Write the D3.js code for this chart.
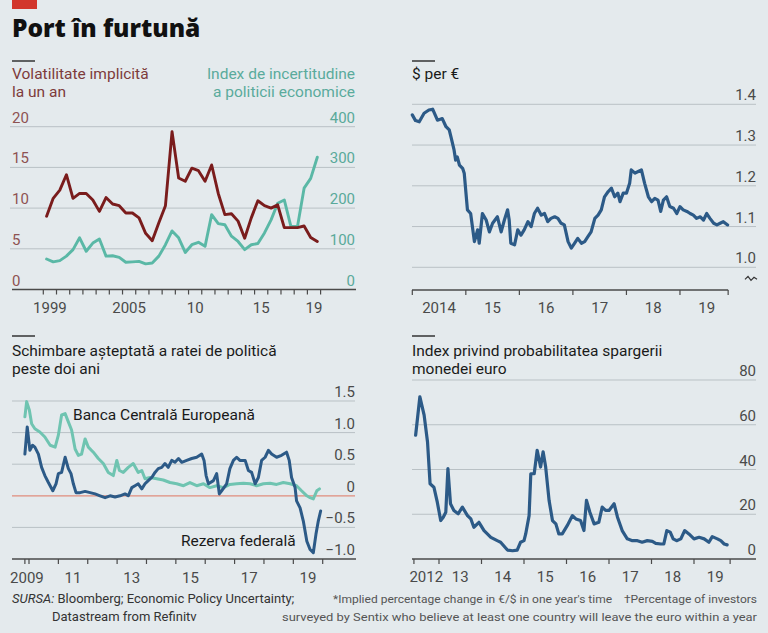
<!DOCTYPE html>
<html>
<head>
<meta charset="utf-8">
<script src="https://cdn.jsdelivr.net/npm/d3@7"></script>
<style>
  body { margin: 0; background: #e4eaed; }
  svg { display: block; font-family: Roboto, "Open Sans", sans-serif; }
</style>
</head>
<body>
<div id="chart"></div>
<script>
// ---- data ----
// panel 1: half-yearly, 1999 H1 .. 2019 H2
var volPeriods = d3.range(1999.25, 2020, 0.5);
var volatility = [9.0, 11.2, 12.2, 14.1, 11.2, 11.8, 11.8, 11.0, 9.6, 11.3, 10.5, 10.3, 9.4, 9.4, 8.8, 6.9, 6.0, 8.2, 10.3, 19.4,
  13.7, 13.3, 14.9, 14.6, 13.3, 15.3, 11.8, 9.2, 9.3, 8.4, 6.3, 8.8, 10.9, 10.3, 10.0, 10.4, 7.6, 7.6, 7.6, 7.8, 6.4, 5.9];
var uncertainty = [75, 68, 71, 82, 98, 127, 94, 114, 124, 82, 83, 79, 67, 68, 69, 63, 65, 82, 110, 144,
  127, 91, 110, 116, 106, 184, 162, 159, 131, 118, 98, 110, 113, 139, 171, 212, 220, 155, 155, 249, 273, 325];

// panel 2: $ per euro
var fxDates = [2014.00, 2014.06, 2014.13, 2014.22, 2014.31, 2014.38, 2014.47, 2014.56, 2014.63, 2014.69, 2014.72, 2014.78,
  2014.81, 2014.84, 2014.88, 2014.94, 2014.97, 2015.03, 2015.09, 2015.16, 2015.22, 2015.25, 2015.31, 2015.38, 2015.44,
  2015.50, 2015.59, 2015.66, 2015.72, 2015.78, 2015.81, 2015.84, 2015.91, 2015.97, 2016.03, 2016.09, 2016.16, 2016.22,
  2016.28, 2016.34, 2016.41, 2016.47, 2016.53, 2016.59, 2016.66, 2016.72, 2016.78, 2016.84, 2016.91, 2016.97, 2017.03,
  2017.09, 2017.16, 2017.22, 2017.28, 2017.34, 2017.41, 2017.47, 2017.53, 2017.59, 2017.66, 2017.72, 2017.78, 2017.84,
  2017.88, 2017.94, 2018.00, 2018.06, 2018.09, 2018.16, 2018.22, 2018.28, 2018.34, 2018.41, 2018.47, 2018.53, 2018.59,
  2018.64, 2018.69, 2018.75, 2018.81, 2018.88, 2018.94, 2019.00, 2019.06, 2019.13, 2019.19, 2019.25, 2019.31, 2019.38,
  2019.44, 2019.50, 2019.56, 2019.63, 2019.69, 2019.75, 2019.81, 2019.89];
var fxValues = [1.374, 1.360, 1.357, 1.378, 1.386, 1.388, 1.361, 1.365, 1.345, 1.337, 1.321, 1.288,
  1.263, 1.271, 1.251, 1.243, 1.231, 1.141, 1.132, 1.063, 1.092, 1.059, 1.132, 1.116, 1.087,
  1.108, 1.124, 1.087, 1.116, 1.141, 1.116, 1.059, 1.055, 1.092, 1.079, 1.092, 1.112, 1.100,
  1.132, 1.145, 1.128, 1.132, 1.112, 1.120, 1.124, 1.120, 1.108, 1.104, 1.063, 1.047, 1.059,
  1.071, 1.059, 1.063, 1.075, 1.087, 1.120, 1.128, 1.141, 1.173, 1.186, 1.194, 1.173, 1.182,
  1.161, 1.182, 1.182, 1.206, 1.239, 1.231, 1.235, 1.239, 1.206, 1.173, 1.161, 1.169, 1.165,
  1.137, 1.165, 1.173, 1.149, 1.145, 1.132, 1.149, 1.141, 1.137, 1.132, 1.128, 1.120, 1.124,
  1.116, 1.132, 1.120, 1.108, 1.104, 1.108, 1.112, 1.104];

// panel 3: expected policy-rate change, ECB and Fed
var ecbDates = [2009.86, 2009.92, 2010.01, 2010.09, 2010.20, 2010.37, 2010.54, 2010.72, 2010.89, 2011.00, 2011.11, 2011.23,
  2011.34, 2011.45, 2011.57, 2011.68, 2011.79, 2011.91, 2012.02, 2012.19, 2012.36, 2012.53, 2012.70, 2012.87, 2012.99,
  2013.08, 2013.21, 2013.38, 2013.55, 2013.72, 2013.84, 2013.95, 2014.12, 2014.35, 2014.57, 2014.80, 2015.03, 2015.26,
  2015.48, 2015.71, 2015.94, 2016.16, 2016.39, 2016.62, 2016.84, 2017.07, 2017.30, 2017.53, 2017.75, 2017.98, 2018.21,
  2018.43, 2018.66, 2018.89, 2019.11, 2019.28, 2019.46, 2019.57, 2019.68, 2019.80, 2019.89];
var ecbValues = [1.25, 1.49, 1.36, 1.14, 1.06, 1.01, 0.93, 0.80, 0.77, 0.96, 1.28, 1.30,
  1.17, 1.04, 0.74, 0.64, 0.66, 0.90, 0.77, 0.69, 0.59, 0.51, 0.37, 0.32, 0.56,
  0.40, 0.37, 0.45, 0.51, 0.37, 0.40, 0.27, 0.29, 0.27, 0.25, 0.21, 0.19, 0.16,
  0.21, 0.16, 0.19, 0.13, 0.16, 0.13, 0.18, 0.19, 0.20, 0.19, 0.16, 0.19, 0.20,
  0.18, 0.21, 0.19, 0.16, 0.08, 0.00, -0.03, -0.05, 0.08, 0.11];
var fedDates = [2009.86, 2009.94, 2010.03, 2010.12, 2010.20, 2010.32, 2010.43, 2010.54, 2010.66, 2010.81, 2010.92, 2011.00,
  2011.11, 2011.23, 2011.34, 2011.43, 2011.51, 2011.60, 2011.74, 2011.91, 2012.08, 2012.25, 2012.42, 2012.59, 2012.76,
  2012.93, 2013.10, 2013.27, 2013.38, 2013.50, 2013.61, 2013.72, 2013.84, 2013.95, 2014.06, 2014.18, 2014.29, 2014.40,
  2014.52, 2014.63, 2014.74, 2014.86, 2014.97, 2015.09, 2015.20, 2015.37, 2015.54, 2015.71, 2015.88, 2015.96, 2016.03,
  2016.11, 2016.28, 2016.39, 2016.48, 2016.56, 2016.73, 2016.84, 2016.96, 2017.07, 2017.18, 2017.36, 2017.47, 2017.58,
  2017.70, 2017.81, 2017.92, 2018.04, 2018.15, 2018.26, 2018.43, 2018.60, 2018.77, 2018.86, 2018.94, 2019.06, 2019.11,
  2019.23, 2019.34, 2019.46, 2019.57, 2019.68, 2019.77, 2019.85, 2019.93];
var fedValues = [0.66, 1.09, 0.72, 0.80, 0.77, 0.66, 0.45, 0.32, 0.21, 0.08, 0.19, 0.35,
  0.37, 0.61, 0.43, 0.35, 0.19, 0.05, 0.05, 0.07, 0.05, 0.03, 0.00, -0.03, 0.00,
  -0.02, 0.00, 0.03, 0.00, 0.13, 0.16, 0.19, 0.11, 0.19, 0.24, 0.29, 0.37, 0.43,
  0.45, 0.51, 0.45, 0.56, 0.53, 0.59, 0.53, 0.56, 0.59, 0.61, 0.66, 0.56, 0.32,
  0.19, 0.24, 0.35, 0.03, 0.08, 0.19, 0.43, 0.56, 0.61, 0.56, 0.56, 0.40, 0.37,
  0.19, 0.29, 0.56, 0.61, 0.72, 0.66, 0.61, 0.64, 0.69, 0.56, 0.29, 0.13, -0.08,
  -0.19, -0.40, -0.72, -0.85, -0.90, -0.61, -0.40, -0.24];

// panel 4: euro break-up index
var breakDates = [2012.45, 2012.55, 2012.65, 2012.73, 2012.79, 2012.88, 2012.96, 2013.04, 2013.10, 2013.16, 2013.21, 2013.27,
  2013.35, 2013.45, 2013.55, 2013.67, 2013.75, 2013.82, 2013.94, 2014.06, 2014.22, 2014.37, 2014.45, 2014.61, 2014.73,
  2014.84, 2014.92, 2015.00, 2015.04, 2015.12, 2015.16, 2015.24, 2015.31, 2015.35, 2015.39, 2015.45, 2015.51, 2015.59,
  2015.67, 2015.75, 2015.82, 2015.90, 2016.02, 2016.14, 2016.22, 2016.33, 2016.41, 2016.47, 2016.55, 2016.65, 2016.76,
  2016.84, 2016.92, 2017.00, 2017.12, 2017.20, 2017.31, 2017.43, 2017.55, 2017.67, 2017.78, 2017.90, 2018.02, 2018.10,
  2018.22, 2018.29, 2018.36, 2018.44, 2018.51, 2018.59, 2018.69, 2018.78, 2018.88, 2019.00, 2019.12, 2019.24, 2019.35,
  2019.43, 2019.55, 2019.63, 2019.71, 2019.78];
var breakValues = [55.3, 72.5, 64.3, 52.3, 33.6, 32.1, 25.4, 17.2, 18.7, 20.9, 40.4, 24.7,
  21.7, 20.2, 23.2, 19.4, 17.9, 14.2, 16.4, 12.7, 9.7, 8.2, 7.5, 4.0, 3.7,
  4.0, 7.5, 8.2, 11.2, 19.4, 38.1, 38.1, 48.6, 44.9, 41.1, 47.9, 41.1, 26.2,
  17.2, 15.7, 11.2, 11.2, 15.0, 19.4, 17.9, 17.2, 12.7, 26.2, 20.9, 15.7, 16.4,
  23.2, 21.7, 21.7, 24.7, 18.7, 12.7, 9.0, 8.2, 8.2, 7.5, 8.2, 7.9, 7.0,
  6.7, 6.7, 12.7, 12.0, 9.0, 8.2, 9.0, 12.7, 11.2, 9.0, 9.7, 9.0, 7.5,
  10.0, 9.0, 8.2, 6.7, 6.3];

// tick labels
var volTicks = [0, 5, 10, 15, 20];
var epuTicks = [0, 100, 200, 300, 400];
var volYearLabels = ["1999", "2005", "10", "15", "19"];
var fxTicks = [1.0, 1.1, 1.2, 1.3, 1.4];
var fxYearLabels = ["2014", "15", "16", "17", "18", "19"];
var rateTicks = [-1.0, -0.5, 0, 0.5, 1.0, 1.5];
var rateYearLabels = ["2009", "11", "13", "15", "17", "19"];
var breakTicks = [0, 20, 40, 60, 80];
var breakYearLabels = ["2012", "13", "14", "15", "16", "17", "18", "19"];

// ---- drawing ----
var W = 768, H = 633;
var GRID = "#b9c1c5", AXIS = "#4a4a4a", LABEL = "#4a4a4a";
var RED = "#7a1c1c", TEAL = "#5ab8a6", BLUE = "#2c5a87", TEAL2 = "#6fc4b1";

var svg = d3.select("#chart").append("svg")
  .attr("width", W)
  .attr("height", H);

svg.append("rect").attr("width", W).attr("height", H).attr("fill", "#e4eaed");

// red tag and title
svg.append("rect").attr("x", 12).attr("y", 0).attr("width", 25).attr("height", 9).attr("fill", "#d2362c");
svg.append("text")
  .attr("x", 12).attr("y", 37)
  .style("font-family", "'Open Sans', sans-serif")
  .style("font-weight", 800)
  .style("font-size", "24.5px")
  .attr("fill", "#111")
  .text("Port în furtună");

function marker(x, y) {
  svg.append("line").attr("x1", x).attr("x2", x + 23).attr("y1", y).attr("y2", y)
    .attr("stroke", "#333").attr("stroke-width", 1.5);
}

function textLines(lines, x, y, anchor, color) {
  lines.forEach(function (s, i) {
    svg.append("text").attr("x", x).attr("y", y + i * 18)
      .attr("text-anchor", anchor)
      .style("font-size", "15.5px")
      .attr("fill", color)
      .text(s);
  });
}

function gridlines(y, ticks, x0, x1, skip) {
  svg.append("g").selectAll("line")
    .data(ticks.filter(function (d) { return skip.indexOf(d) < 0; }))
    .enter().append("line")
    .attr("x1", x0).attr("x2", x1)
    .attr("y1", function (d) { return y(d); })
    .attr("y2", function (d) { return y(d); })
    .attr("stroke", GRID).attr("stroke-width", 1);
}

function valueLabels(y, ticks, x, anchor, color, fmt) {
  svg.append("g").selectAll("text")
    .data(ticks)
    .enter().append("text")
    .attr("x", x)
    .attr("y", function (d) { return y(d) - 4; })
    .attr("text-anchor", anchor)
    .style("font-size", "15px")
    .attr("fill", color)
    .text(fmt);
}

function xAxis(x, yPos, tickYears, x0, x1) {
  svg.append("line").attr("x1", x0).attr("x2", x1).attr("y1", yPos).attr("y2", yPos)
    .attr("stroke", AXIS).attr("stroke-width", 1.3);
  svg.append("g").selectAll("line")
    .data(tickYears)
    .enter().append("line")
    .attr("x1", function (d) { return x(d); })
    .attr("x2", function (d) { return x(d); })
    .attr("y1", yPos).attr("y2", yPos + 5)
    .attr("stroke", AXIS).attr("stroke-width", 1.2);
}

function yearLabels(x, yPos, years, labels) {
  svg.append("g").selectAll("text")
    .data(years)
    .enter().append("text")
    .attr("x", function (d) { return x(d); })
    .attr("y", yPos)
    .attr("text-anchor", "middle")
    .style("font-size", "15px")
    .attr("fill", LABEL)
    .text(function (d, i) { return labels[i]; });
}

function drawLine(x, y, dates, values, color, w) {
  var line = d3.line()
    .x(function (d, i) { return x(dates[i]); })
    .y(function (d) { return y(d); });
  svg.append("path")
    .datum(values)
    .attr("d", line)
    .attr("fill", "none")
    .attr("stroke", color)
    .attr("stroke-width", w)
    .attr("stroke-linejoin", "round")
    .attr("stroke-linecap", "round");
}

// ---- panel 1: volatility vs policy uncertainty ----
var x1 = d3.scaleLinear().domain([1999, 2020]).range([43.3, 320.6]);
var yVol = d3.scaleLinear().domain([0, 20]).range([289.5, 126.7]);
var yEpu = d3.scaleLinear().domain([0, 400]).range([289.5, 126.7]);

marker(12, 61);
textLines(["Volatilitate implicită", "la un an"], 12, 79, "start", "#7d3b3b");
textLines(["Index de incertitudine", "a politicii economice"], 355, 79, "end", "#5aab9c");

gridlines(yVol, volTicks, 10, 355, [0]);
valueLabels(yVol, volTicks, 12, "start", "#8e5252", function (d) { return d; });
valueLabels(yEpu, epuTicks, 355, "end", "#5aa99a", function (d) { return d; });
xAxis(x1, 289.5, d3.range(1999, 2021), 12, 356);
yearLabels(x1, 313, [1999.5, 2005.5, 2010.5, 2015.5, 2019.5], volYearLabels);

drawLine(x1, yEpu, volPeriods, uncertainty, TEAL, 2.9);
drawLine(x1, yVol, volPeriods, volatility, RED, 2.9);

// ---- panel 2: $ per euro ----
var x2 = d3.scaleLinear().domain([2014, 2020]).range([412.3, 733.5]);
var yFx = d3.scaleLinear().domain([1.0, 1.4]).range([267.3, 104.3]);

marker(412, 61);
textLines(["$ per €"], 412, 79, "start", "#1a1a1a");

gridlines(yFx, fxTicks, 412, 756, []);
valueLabels(yFx, fxTicks, 756, "end", LABEL, d3.format(".1f"));
xAxis(x2, 290, [2014, 2015, 2016, 2017, 2018, 2019, 2019.9], 412, x2(2019.9));
yearLabels(x2, 312.5, [2014.5, 2015.5, 2016.5, 2017.5, 2018.5, 2019.5], fxYearLabels);

// axis break symbol
var bx = 751, by = yFx(1.0) + 11;
svg.append("path")
  .attr("d", "M" + (bx - 6) + "," + (by + 1) + " L" + (bx - 3) + "," + (by - 2) + " L" + bx + "," + (by + 2) +
    " L" + (bx + 3) + "," + (by - 1) + " L" + (bx + 6) + "," + (by + 1))
  .attr("fill", "none").attr("stroke", "#333").attr("stroke-width", 1.2);

drawLine(x2, yFx, fxDates, fxValues, BLUE, 3.2);

// ---- panel 3: expected policy-rate change ----
var x3 = d3.scaleLinear().domain([2010, 2020]).range([29, 322.7]);
var yRate = d3.scaleLinear().domain([-1, 1.5]).range([559, 401]);

marker(12, 336);
textLines(["Schimbare așteptată a ratei de politică", "peste doi ani"], 12, 356, "start", "#1a1a1a");

gridlines(yRate, rateTicks, 12, 355, [-1, 0]);
svg.append("line").attr("x1", 12).attr("x2", 355).attr("y1", yRate(0)).attr("y2", yRate(0))
  .attr("stroke", "#e08c7c").attr("stroke-width", 1.3);
valueLabels(yRate, rateTicks, 355, "end", LABEL, function (d) { return d === 0 ? "0" : d3.format(".1f")(d); });
xAxis(x3, yRate(-1), [2009.86].concat(d3.range(2010, 2021)), 12, 356);
yearLabels(x3, 583, [2009.93, 2011.5, 2013.5, 2015.5, 2017.5, 2019.5], rateYearLabels);

drawLine(x3, yRate, ecbDates, ecbValues, TEAL2, 3);
drawLine(x3, yRate, fedDates, fedValues, BLUE, 3);

svg.append("text").attr("x", 73).attr("y", 420).style("font-size", "15.5px").attr("fill", "#1a1a1a")
  .text("Banca Centrală Europeană");
svg.append("text").attr("x", 181).attr("y", 546).style("font-size", "15.5px").attr("fill", "#1a1a1a")
  .text("Rezerva federală");

// ---- panel 4: euro break-up index ----
var x4 = d3.scaleLinear().domain([2013, 2020]).range([439, 736.5]);
var yBreak = d3.scaleLinear().domain([0, 80]).range([559, 380]);

marker(412, 336);
textLines(["Index privind probabilitatea spargerii", "monedei euro"], 412, 356, "start", "#1a1a1a");

gridlines(yBreak, breakTicks, 412, 756, [0]);
valueLabels(yBreak, breakTicks, 756, "end", LABEL, function (d) { return d; });
xAxis(x4, yBreak(0), [2012.41, 2013, 2014, 2015, 2016, 2017, 2018, 2019, 2019.85], 412, 756);
yearLabels(x4, 581.5, [2012.7, 2013.5, 2014.5, 2015.5, 2016.5, 2017.5, 2018.5, 2019.5], breakYearLabels);

drawLine(x4, yBreak, breakDates, breakValues, BLUE, 3.2);

// ---- footer ----
var src = svg.append("text").attr("x", 12).attr("y", 603).style("font-size", "13px").attr("fill", "#333");
src.append("tspan").style("font-style", "italic").text("SURSA:");
src.append("tspan").text(" Bloomberg; Economic Policy Uncertainty;");
svg.append("text").attr("x", 52).attr("y", 621).style("font-size", "13px").attr("fill", "#333")
  .text("Datastream from Refinitv");

svg.append("text").attr("x", 757).attr("y", 603).attr("text-anchor", "end")
  .style("font-size", "11px").attr("fill", "#555")
  .attr("textLength", 424).attr("lengthAdjust", "spacingAndGlyphs")
  .text("*Implied percentage change in €/$ in one year's time\u00a0\u00a0\u00a0\u00a0†Percentage of investors");
svg.append("text").attr("x", 757).attr("y", 621).attr("text-anchor", "end")
  .style("font-size", "11px").attr("fill", "#555")
  .attr("textLength", 475).attr("lengthAdjust", "spacingAndGlyphs")
  .text("surveyed by Sentix who believe at least one country will leave the euro within a year");
</script>
</body>
</html>
